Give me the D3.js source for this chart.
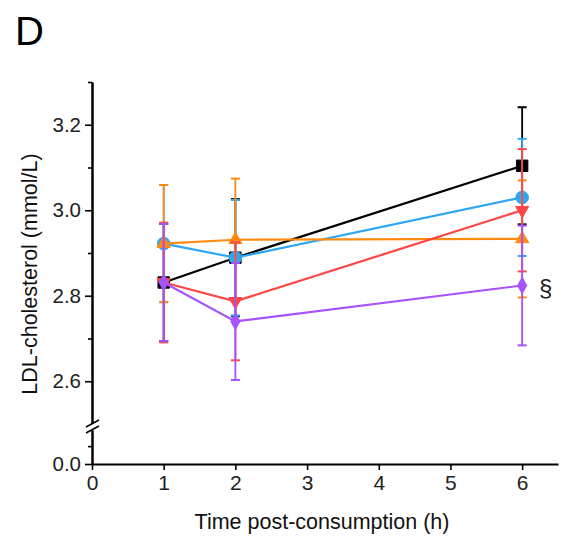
<!DOCTYPE html>
<html><head><meta charset="utf-8">
<script src="https://cdn.jsdelivr.net/npm/d3@7"></script>
<style>
body{margin:0;background:#fff;}
text{font-family:"Liberation Sans",Arial,sans-serif;}
</style></head>
<body><svg id="c" width="565" height="539"></svg>
<script>
const times = [1, 2, 6];
const blackVals  = [2.831, 2.889, 3.104];
const blackErr   = [0.137, 0.137, 0.137];
const blueVals   = [2.922, 2.889, 3.030];
const blueErr    = [0.137, 0.135, 0.137];
const orangeVals = [2.922, 2.931, 2.933];
const orangeErr  = [0.137, 0.143, 0.137];
const redVals    = [2.831, 2.787, 3.000];
const redErr     = [0.14, 0.138, 0.143];
const purpleVals = [2.831, 2.740, 2.824];
const purpleErr  = [0.137, 0.137, 0.14];
const xTicks = [0, 1, 2, 3, 4, 5, 6];
const yMajor = [3.2, 3.0, 2.8, 2.6];
const yMinor = [3.3, 3.1, 2.9, 2.7];

const series = [
  {vals: blackVals,  err: blackErr,  color: "#000000", shape: "square"},
  {vals: blueVals,   err: blueErr,   color: "#2ea6f2", shape: "circle"},
  {vals: orangeVals, err: orangeErr, color: "#ff8a10", shape: "triUp"},
  {vals: redVals,    err: redErr,    color: "#ff4646", shape: "triDown"},
  {vals: purpleVals, err: purpleErr, color: "#a552ff", shape: "diamond"}
];

const svg = d3.select("#c");
const x = d3.scaleLinear().domain([0, 6.5]).range([92, 558]);
const yU = d3.scaleLinear().domain([2.5, 3.3]).range([424, 82]);
const yL = d3.scaleLinear().domain([0, 0.19]).range([464, 430]);

function styler(fs){
  return g=>{
    g.attr("font-size", fs).attr("font-family","Liberation Sans, Arial, sans-serif");
    g.selectAll(".domain").attr("stroke","#000").attr("stroke-width",2);
    g.selectAll(".tick line").attr("stroke","#000").attr("stroke-width",1.6);
    g.selectAll(".tick text").attr("fill","#222").attr("font-size", fs);
  };
}

svg.append("g").attr("transform","translate(92,0)")
  .call(d3.axisLeft(yU).tickValues(yMajor).tickSize(7).tickSizeOuter(0).tickPadding(4).tickFormat(d3.format(".1f")))
  .call(styler(20.5));
svg.append("g").attr("transform","translate(92,0)")
  .call(d3.axisLeft(yU).tickValues(yMinor).tickSize(4).tickSizeOuter(0).tickFormat(""))
  .call(styler(20.5));
svg.append("g").attr("transform","translate(92,0)")
  .call(d3.axisLeft(yL).tickValues([0]).tickSize(7).tickSizeOuter(0).tickPadding(4).tickFormat(d3.format(".1f")))
  .call(styler(20.5));
svg.append("g").attr("transform","translate(92,0)")
  .call(d3.axisLeft(yL).tickValues([0.1]).tickSize(4).tickSizeOuter(0).tickFormat(""))
  .call(styler(20.5));
svg.append("g").attr("transform","translate(0,464)")
  .call(d3.axisBottom(x).tickValues(xTicks).tickSize(6).tickSizeOuter(0).tickPadding(5).tickFormat(d3.format("d")))
  .call(styler(21));

// break marks
svg.append("rect").attr("x",88).attr("y",424).attr("width",8).attr("height",6).attr("fill","#fff");
svg.append("line").attr("x1",86).attr("y1",427).attr("x2",99).attr("y2",420).attr("stroke","#000").attr("stroke-width",1.6);
svg.append("line").attr("x1",86).attr("y1",433).attr("x2",99).attr("y2",426).attr("stroke","#000").attr("stroke-width",1.6);

const line = d3.line().x((d,i)=>x(times[i])).y(d=>yU(d));

series.forEach(s=>{
  const g = svg.append("g");
  s.vals.forEach((v,i)=>{
    const cx = x(times[i]);
    const t = yU(v + s.err[i]), b = yU(v - s.err[i]);
    g.append("line").attr("x1",cx).attr("x2",cx).attr("y1",t).attr("y2",b)
      .attr("stroke",s.color).attr("stroke-width",1.8);
    [t,b].forEach(yy=>g.append("line").attr("x1",cx-4.5).attr("x2",cx+4.5).attr("y1",yy).attr("y2",yy)
      .attr("stroke",s.color).attr("stroke-width",2));
  });
  g.append("path").datum(s.vals).attr("d",line).attr("fill","none")
    .attr("stroke",s.color).attr("stroke-width",2.2);
  s.vals.forEach((v,i)=>{
    const cx = x(times[i]), cy = yU(v);
    const sym = {
      square: d3.symbol(d3.symbolSquare, 130),
      circle: d3.symbol(d3.symbolCircle, 125),
      triUp: d3.symbol(d3.symbolTriangle, 75),
      triDown: d3.symbol(d3.symbolTriangle, 75),
      diamond: d3.symbol(d3.symbolDiamond, 75)
    }[s.shape];
    g.append("path").attr("d",sym())
      .attr("transform",`translate(${cx},${cy})` + (s.shape==="triDown"?" rotate(180)":""))
      .attr("fill",s.color).attr("stroke",s.color).attr("stroke-width",1);
  });
});

svg.append("text").attr("x",15).attr("y",45).attr("font-size",40).attr("fill","#000").text("D");
svg.append("text").attr("transform","translate(37,274) rotate(-90)").attr("text-anchor","middle")
  .attr("font-size",21.5).attr("fill","#111").text("LDL-cholesterol (mmol/L)");
svg.append("text").attr("x",322).attr("y",529).attr("text-anchor","middle")
  .attr("font-size",21.5).attr("fill","#111").text("Time post-consumption (h)");
svg.append("text").attr("x",539).attr("y",296).attr("font-size",24).attr("fill","#222").text("§");
</script></body></html>
